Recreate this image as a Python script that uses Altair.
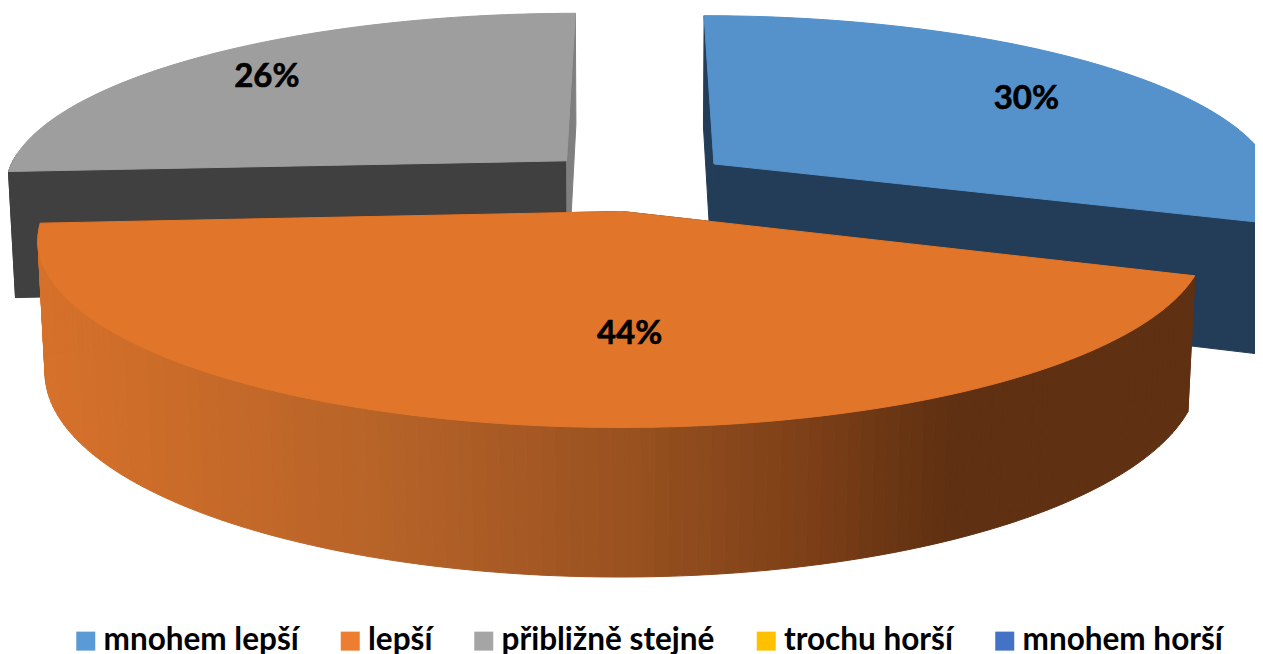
import math
import altair as alt

CATEGORIES = ["mnohem lepší", "lepší", "přibližně stejné", "trochu horší", "mnohem horší"]
VALUES = [30.4, 43.6, 26.0, 0, 0]
LABELS = ["30%", "44%", "26%", "", ""]
LEGEND_COLORS = ["#5B9BD5", "#ED7D31", "#A5A5A5", "#FFC000", "#4472C4"]
TOP_COLORS = ["#5592CB", "#E1762B", "#9E9E9E", "#FFC000", "#4472C4"]
START_WALL_COLORS = ["#233D58", "#5F3011", "#404040", "#000000", "#000000"]
END_WALL_COLORS = ["#233D58", "#5F3011", "#7F7F7F", "#000000", "#000000"]
LABEL_RADII = [0.66, 0.62, 0.72, 0, 0]
LABEL_SHIFTS = [(33, -4), (63, -2), (-33, -6), (0, 0), (0, 0)]
DRAW_ORDER = [2, 0, 1]

# camera (page pixels, pie radius = 1)
CX, CY, F, D, S = 636.0, 181.0, 3660.0, 6.5, 0.31
C = math.sqrt(1 - S * S)
EXPLODE, THICK = 0.172, 0.24
ORIGIN = 8.0
# side-wall shading stops: page x, colour
WALL_STOPS = [(40, (214, 113, 42)), (400, (181, 98, 40)), (620, (154, 82, 32)), (800, (126, 64, 24)), (950, (95, 48, 17))]


def project(u, v, z=0.0):
    w = D - v * C - z * S
    return [CX + F * u / w - ORIGIN, CY + F * (v * S - z * C) / w - ORIGIN]


def feature(ring, fill, slice_name):
    pts = ring + [ring[0]]
    return {
        "type": "Feature",
        "geometry": {"type": "Polygon", "coordinates": [pts]},
        "properties": {"fill": fill, "slice": slice_name},
    }


def wall_colour(x):
    px = x + ORIGIN
    if px <= WALL_STOPS[0][0]:
        rgb = WALL_STOPS[0][1]
    elif px >= WALL_STOPS[-1][0]:
        rgb = WALL_STOPS[-1][1]
    else:
        for (x0, c0), (x1, c1) in zip(WALL_STOPS, WALL_STOPS[1:]):
            if x0 <= px <= x1:
                t = (px - x0) / (x1 - x0)
                rgb = [round(a + (b - a) * t) for a, b in zip(c0, c1)]
                break
    return "#%02x%02x%02x" % tuple(rgb)


total = sum(VALUES)
tops, walls_by_slice, labels = {}, {}, []
start = 0.0
for i, value in enumerate(VALUES):
    if value == 0:
        continue
    sweep = value / total * 2 * math.pi
    end = start + sweep
    mid = (start + end) / 2
    ou, ov = EXPLODE * math.sin(mid), -EXPLODE * math.cos(mid)

    def rim(theta, z=0.0):
        return project(ou + math.sin(theta), ov - math.cos(theta), z)

    apex, apex_b = project(ou, ov), project(ou, ov, -THICK)
    n = max(8, int(value * 3))
    angles = [start + sweep * k / n for k in range(n + 1)]
    walls = []
    walls.append(feature([apex, rim(start), rim(start, -THICK), apex_b], START_WALL_COLORS[i], CATEGORIES[i]))
    walls.append(feature([apex, rim(end), rim(end, -THICK), apex_b], END_WALL_COLORS[i], CATEGORIES[i]))
    for a, b in zip(angles, angles[1:]):
        if -math.cos((a + b) / 2) < -0.05:
            continue
        xm = (rim(a)[0] + rim(b)[0]) / 2
        colour = wall_colour(xm) if i == 1 else START_WALL_COLORS[i]
        walls.append(feature([rim(a), rim(b), rim(b, -THICK), rim(a, -THICK)], colour, CATEGORIES[i]))
    walls_by_slice[i] = walls
    tops[i] = feature([apex] + [rim(a) for a in angles], TOP_COLORS[i], CATEGORIES[i])
    lx, ly = project(ou + LABEL_RADII[i] * math.sin(mid), ov - LABEL_RADII[i] * math.cos(mid))
    labels.append({"x": lx + LABEL_SHIFTS[i][0], "y": ly + LABEL_SHIFTS[i][1], "label": LABELS[i]})
    start = end

legend = alt.Legend(
    title=None,
    orient="none",
    direction="horizontal",
    legendX=62,
    legendY=617,
    symbolType="M-1,-1H1V1H-1Z",
    symbolSize=361,
    symbolStrokeWidth=0,
    symbolOpacity=1,
    labelFont="Lato",
    labelFontWeight="bold",
    labelFontSize=31.5,
    labelColor="#000000",
    labelOffset=2,
    labelLimit=400,
    columnPadding=35.5,
    columns=5,
    padding=0,
)

IDENTITY = dict(type="identity", scale=1, translate=[0, 0], reflectY=False)

base = (
    alt.Chart(alt.Data(values=[tops[i] for i in DRAW_ORDER]))
    .mark_geoshape()
    .encode(
        color=alt.Color(
            field="properties.slice",
            type="nominal",
            scale=alt.Scale(domain=CATEGORIES, range=LEGEND_COLORS),
            legend=legend,
        )
    )
    .project(**IDENTITY)
)

painted = []
for i in DRAW_ORDER:
    painted.extend(walls_by_slice[i])
    painted.append(tops[i])

faces = (
    alt.Chart(alt.Data(values=painted))
    .mark_geoshape(strokeWidth=1.0)
    .encode(
        fill=alt.Fill(field="properties.fill", type="nominal", scale=None),
        stroke=alt.Stroke(field="properties.fill", type="nominal", scale=None),
    )
    .project(**IDENTITY)
)

text = (
    alt.Chart(alt.Data(values=labels))
    .mark_text(font="Lato", fontWeight="bold", fontSize=33, color="#000000", stroke="#000000", strokeWidth=0.6,
               align="center", baseline="middle")
    .encode(longitude="x:Q", latitude="y:Q", text="label:N")
    .project(**IDENTITY)
)

chart = (
    alt.layer(base, faces, text)
    .properties(width=1247, height=646, padding=0, autosize=alt.AutoSizeParams(type="none"), background="white")
    .configure_view(stroke=None)
)
chart.save("out.html", embed_options={"renderer": "svg", "actions": False})
